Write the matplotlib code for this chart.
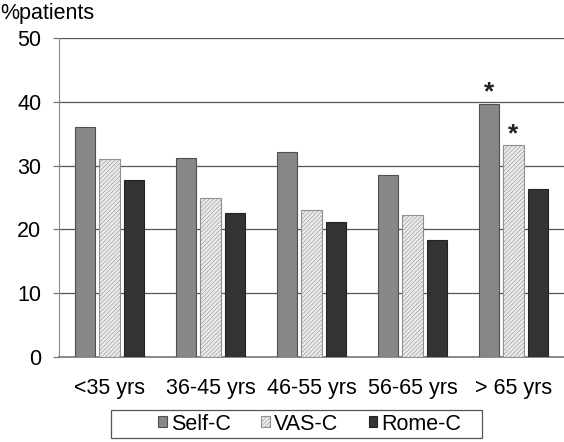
import matplotlib
matplotlib.use("Agg")
from matplotlib import pyplot as plt
from matplotlib.patches import Rectangle
import numpy as np

plt.rcParams["font.family"] = ["Liberation Sans", "DejaVu Sans"]
plt.rcParams["hatch.linewidth"] = 0.4
plt.rcParams["hatch.color"] = "#a8a8a8"

groups = ["<35 yrs", "36-45 yrs", "46-55 yrs", "56-65 yrs", "> 65 yrs"]
series = ["Self-C", "VAS-C", "Rome-C"]
self_c = [36.1, 31.2, 32.2, 28.6, 39.7]
vas_c = [31.1, 24.9, 23.1, 22.2, 33.2]
rome_c = [27.8, 22.5, 21.2, 18.4, 26.4]
stars = [(4, 0), (4, 1)]  # (group, series) with significance mark

W, H = 564, 442
fig = plt.figure(figsize=(W / 100, H / 100), dpi=100)
ax = fig.add_axes([59 / W, 1 - 357 / H, 1 - 59 / W, 319 / H])

x = np.arange(len(groups))
w = 0.2
step = 0.245
values = [self_c, vas_c, rome_c]
styles = [
    dict(color="#878787", edgecolor="#505050"),
    dict(color="#ebebeb", edgecolor="#909090", hatch="////////"),
    dict(color="#333333", edgecolor="#222222"),
]
bars = []
for i, (vals, st) in enumerate(zip(values, styles)):
    b = ax.bar(x + (i - 1) * step, vals, w, linewidth=0.8, label=series[i], zorder=3, **st)
    bars.append(b)

for g, s in stars:
    ax.text(x[g] + (s - 1) * step, values[s][g] - 0.1, "*", ha="center", va="bottom",
            fontsize=19, fontweight="bold", color="#222222")

ax.set_xlim(-0.5, len(groups) - 0.5)
ax.set_ylim(0, 50)
ax.set_yticks(range(0, 51, 10))
ax.yaxis.grid(True, color="#555555", linewidth=0.9, zorder=0)
ax.set_xticks(x)
ax.set_xticklabels(groups)
ax.tick_params(axis="x", length=0, pad=15, labelsize=15.5)
ax.tick_params(axis="y", length=4.3, width=0.9, color="#777777", pad=8.5, labelsize=15.5)
for side in ["top", "right"]:
    ax.spines[side].set_visible(False)
ax.spines["left"].set_color("#888888")
ax.spines["bottom"].set_color("#777777")
ax.spines["bottom"].set_linewidth(1.2)

fig.text(0.0, 1 - 3 / H, "%patients", ha="left", va="top", fontsize=15.5)

# legend box drawn separately (contents sit off-centre in the original)
fig.patches.append(Rectangle((111 / W, 1 - 438 / H), 371 / W, 28 / H, transform=fig.transFigure,
                             fill=False, edgecolor="#555555", linewidth=0.9))
leg = fig.legend(handles=bars, labels=series, loc="center", bbox_to_anchor=(310 / W, 1 - 424 / H),
                 ncol=3, frameon=False, fontsize=15.5,
                 handlelength=0.4, handleheight=0.4, handletextpad=0.2, columnspacing=1.4,
                 borderpad=0.0, borderaxespad=0.0)

fig.savefig("out.png", dpi=100)
